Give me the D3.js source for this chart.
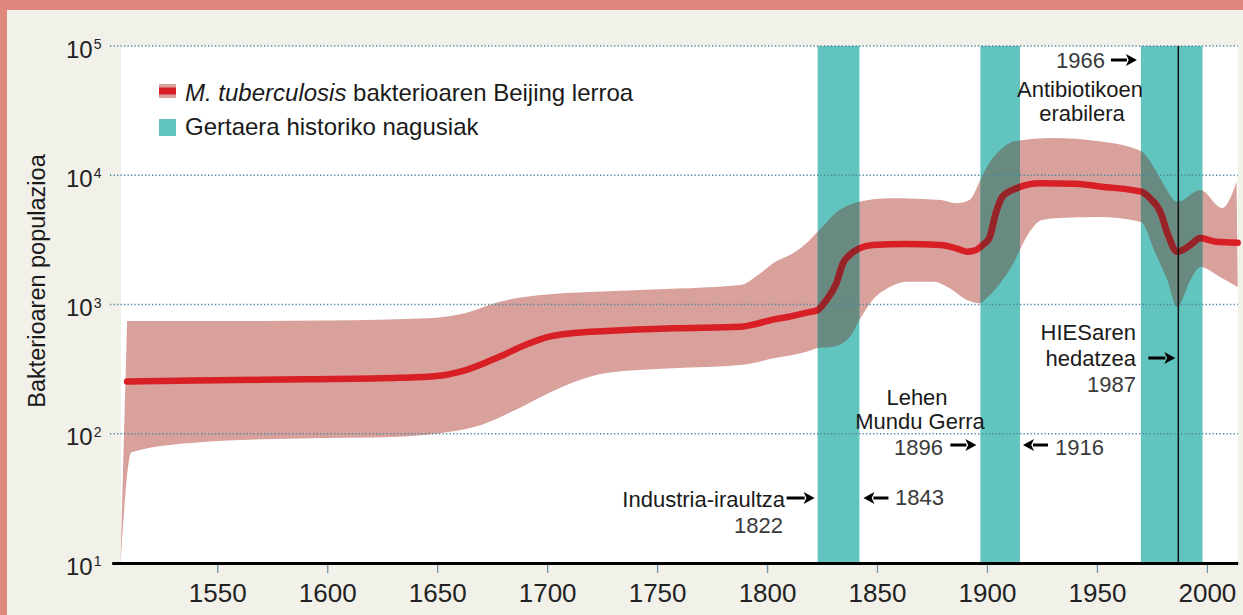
<!DOCTYPE html>
<html><head><meta charset="utf-8">
<script src="https://cdn.jsdelivr.net/npm/d3@7"></script>
<style>
body{margin:0;background:#f1f1ea;}
svg{display:block;font-family:"Liberation Sans",Arial,sans-serif;}
</style>
</head><body>
<svg id="c" width="1243" height="615"></svg>
<script>
// ---------- data ----------
const xTicks = [1550,1600,1650,1700,1750,1800,1850,1900,1950,2000];
const yTickExponents = [1,2,3,4,5];

const medianYears  = [1509,1540,1590,1633,1650,1663,1678,1690,1700,1712,1727,1757,1788,1795,1803,1810,1818,1823,1827,1831.5,1834.5,1837.5,1842,1848,1863,1879,1886,1891,1895,1898,1901,1904,1907,1913.5,1924,1940,1952,1970,1974,1979,1982,1986.5,1992.5,1997,2004,2014];
const medianValues = [254,258,264,271,280,311,393,486,560,602,624,655,673,707,768,804,864,907,1083,1459,2084,2415,2721,2886,2938,2886,2721,2562,2641,2886,3252,5077,6823,7925,8664,8600,8156,7460,6668,5104,3574,2562,2886,3269,3060,3006];

const upperYears  = [1509,1550,1600,1648,1663,1678,1697,1742,1788,1796,1804,1812,1818,1823,1833,1842,1856,1879,1886,1892,1897,1900,1906,1913,1930,1950,1970,1976.6,1981,1986.5,1997,2007,2013.5];
const upperValues = [745,745,752,786,859,1045,1184,1295,1416,1700,2150,2500,2990,3658,5384,6243,6632,6434,6067,6434,9189,11650,15680,18400,19420,18400,15400,10980,8113,6209,7689,5580,8867];

const lowerYears  = [1506,1511,1542,1587,1633,1655,1670,1685,1697,1712,1727,1757,1788,1803,1818,1823,1830,1837.7,1842,1848,1856,1863.5,1875.6,1883,1890.8,1896.8,1899.8,1906,1912,1918,1925,1933,1951,1970,1976.5,1982,1986.5,1992.5,1997,2006,2014];
const lowerValues = [10,72,86,92,95,103,117,151,192,250,295,321,340,384,431,461,472,563,759,1083,1373,1501,1501,1334,1083,1022,1117,1459,2084,3346,4506,4669,4753,4348,2503,1547,956,1547,1950,1632,1366];

const eventStart = [1823, 1897, 1970];
const eventEnd   = [1842, 1915, 1998];
const hivYear = 1987;

// ---------- setup ----------
const svg = d3.select("#c");
const W = 1243, H = 615;
const x = d3.scaleLinear().domain([1502, 2014]).range([111.7, 1237.7]);
const y = d3.scaleLog().domain([10, 1e5]).range([563, 46]);

const C = {
  border:"#de877c", bg:"#f1f1ea", plot:"#ffffff", band:"#d8a19c", teal:"#62c4bf",
  overlap:"#688a80", red:"#d81f26", redDark:"#962328", grid:"#4a86a0", text:"#1a1a1a"
};

svg.append("rect").attr("width",W).attr("height",H).attr("fill",C.bg);
svg.append("rect").attr("width",W).attr("height",10).attr("fill",C.border);
svg.append("rect").attr("width",7).attr("height",H).attr("fill",C.border);
svg.append("rect").attr("x",121).attr("y",y(1e5)).attr("width",x(2014)-121).attr("height",y(10)-y(1e5)).attr("fill",C.plot);

// clip for the event bands
const defs = svg.append("defs");
const clip = defs.append("clipPath").attr("id","bands");
eventStart.forEach((s,i)=>{
  clip.append("rect").attr("x",x(s)).attr("y",y(1e5)).attr("width",x(eventEnd[i])-x(s)).attr("height",y(10)-y(1e5));
});

const lineGen = d3.line().curve(d3.curveMonotoneX);
const up = upperYears.map((yr,i)=>[x(yr), y(upperValues[i])]);
const lo = lowerYears.map((yr,i)=>[x(yr), y(lowerValues[i])]).reverse();
const bandPath = lineGen(up) + "L" + lineGen(lo).slice(1) + "Z";

svg.append("path").attr("d",bandPath).attr("fill",C.band);

// teal event bands
svg.append("g").selectAll("rect").data(eventStart).join("rect")
  .attr("x",d=>x(d)).attr("y",y(1e5))
  .attr("width",(d,i)=>x(eventEnd[i])-x(d)).attr("height",y(10)-y(1e5))
  .attr("fill",C.teal);

svg.append("path").attr("d",bandPath).attr("fill",C.overlap).attr("clip-path","url(#bands)");

// gridlines
svg.append("g").selectAll("line").data(yTickExponents.filter(e=>e>1)).join("line")
  .attr("x1",110).attr("x2",x(2014))
  .attr("y1",e=>y(Math.pow(10,e))).attr("y2",e=>y(Math.pow(10,e)))
  .attr("stroke",C.grid).attr("stroke-width",1.3).attr("stroke-dasharray","1.3,2.2");

// median line
const med = medianYears.map((yr,i)=>[x(yr), y(medianValues[i])]);
svg.append("path").attr("d",lineGen(med)).attr("fill","none").attr("stroke",C.red)
  .attr("stroke-width",6.5).attr("stroke-linecap","round").attr("stroke-linejoin","round");
svg.append("path").attr("d",lineGen(med)).attr("fill","none").attr("stroke",C.redDark)
  .attr("stroke-width",6.5).attr("stroke-linejoin","round").attr("clip-path","url(#bands)");

// HIV vertical line
svg.append("line").attr("x1",x(hivYear)).attr("x2",x(hivYear)).attr("y1",y(1e5)).attr("y2",y(10))
  .attr("stroke","#111").attr("stroke-width",1.5);

// x axis
const xAxis = d3.axisBottom(x).tickValues(xTicks).tickFormat(d3.format("d"))
  .tickSize(8).tickSizeOuter(0).tickPadding(12.5);
const gx = svg.append("g").attr("transform",`translate(0,${y(10)})`).call(xAxis);
gx.select(".domain").attr("stroke","#000").attr("stroke-width",3.2);
gx.selectAll(".tick line").attr("stroke","#6f93a5").attr("stroke-width",1.3).attr("transform","translate(0,2)");
gx.selectAll(".tick text").attr("font-size",26).attr("fill","#222")
  .attr("font-family","'Liberation Sans',Arial,sans-serif");

// y tick labels
const yl = svg.append("g").selectAll("text").data(yTickExponents).join("text")
  .attr("x",66).attr("y",e=>y(Math.pow(10,e))+11.5).attr("fill","#222");
yl.append("tspan").attr("font-size",24).text("10");
yl.append("tspan").attr("font-size",14).attr("dy",-8.5).attr("dx",1).text(e=>e);

// y title
svg.append("text").attr("transform","translate(45,281) rotate(-90)")
  .attr("text-anchor","middle").attr("font-size",23.5).attr("fill",C.text)
  .text("Bakterioaren populazioa");

// legend
svg.append("rect").attr("x",159).attr("y",84).attr("width",17).attr("height",14).attr("fill",C.band);
svg.append("rect").attr("x",159).attr("y",87.5).attr("width",17).attr("height",7).attr("fill",C.red);
svg.append("rect").attr("x",159).attr("y",119).attr("width",17).attr("height",17).attr("fill",C.teal);
const lg1 = svg.append("text").attr("x",185).attr("y",101).attr("font-size",24).attr("fill",C.text);
lg1.append("tspan").attr("font-style","italic").text("M. tuberculosis");
lg1.append("tspan").text(" bakterioaren Beijing lerroa");
svg.append("text").attr("x",185).attr("y",135).attr("font-size",24).attr("fill",C.text)
  .text("Gertaera historiko nagusiak");

// annotations
function arrow(xFrom, xTo, yy){
  const dir = Math.sign(xTo-xFrom), hl = 11, hw = 6;
  svg.append("line").attr("x1",xFrom).attr("x2",xTo-dir*hl+dir*1).attr("y1",yy).attr("y2",yy)
    .attr("stroke","#000").attr("stroke-width",3);
  svg.append("path").attr("d",`M${xTo},${yy}L${xTo-dir*hl},${yy-hw}L${xTo-dir*hl*0.75},${yy}L${xTo-dir*hl},${yy+hw}Z`)
    .attr("fill","#000");
}
function label(t, xx, yy, anchor, fs, col){
  svg.append("text").attr("x",xx).attr("y",yy).attr("text-anchor",anchor)
    .attr("font-size",fs||22).attr("fill",col||C.text).text(t);
}
const yearCol = "#3a3a3a";
// 1822 / 1843
arrow(x(eventStart[0])-31, x(eventStart[0])-3, 498);
label("Industria-iraultza", 785, 507, "end", 22);
label("1822", 783, 533, "end", 22, yearCol);
arrow(x(eventEnd[0])+29, x(eventEnd[0])+4, 498);
label("1843", 895, 505, "start", 22, yearCol);
// 1896 / 1916
label("Lehen", 917, 405, "middle", 22);
label("Mundu Gerra", 920, 429, "middle", 22);
label("1896", 943, 455, "end", 22, yearCol);
arrow(x(eventStart[1])-30, x(eventStart[1])-4, 445);
arrow(x(eventEnd[1])+28, x(eventEnd[1])+3, 445);
label("1916", 1055, 455, "start", 22, yearCol);
// 1966
label("1966", 1105, 68, "end", 22, yearCol);
arrow(x(eventStart[2])-30, x(eventStart[2])-4, 60);
label("Antibiotikoen", 1080, 96.5, "middle", 22);
label("erabilera", 1082, 120.5, "middle", 22);
// 1987
label("HIESaren", 1136, 340, "end", 22);
label("hedatzea", 1136, 366, "end", 22);
label("1987", 1136, 392, "end", 22, yearCol);
arrow(x(hivYear)-30, x(hivYear)-3, 358);
</script>
</body></html>
